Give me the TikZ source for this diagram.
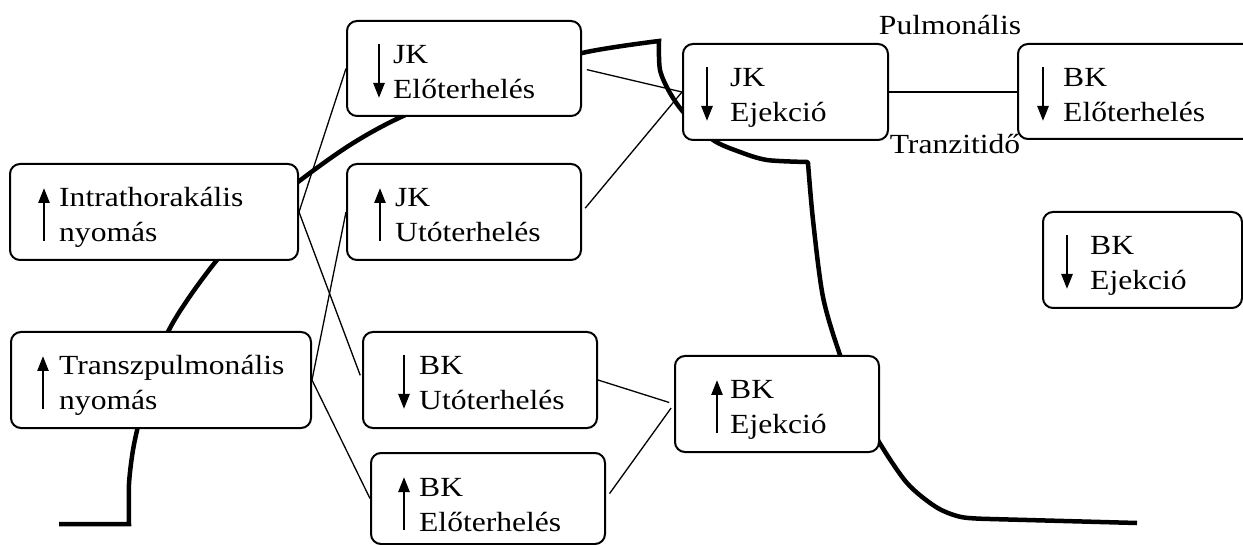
\documentclass[tikz,border=0pt]{standalone}
\usepackage{fontspec}
\setmainfont[FakeStretch=1.14]{Liberation Serif}
\usetikzlibrary{arrows.meta}

% two stacked lines, baseline at the first one
\newcommand\twolines[2]{\begin{tabular}[t]{@{}l@{}}#1\\#2\end{tabular}}

% box: name, left, top, right, bottom, u/d, arrow offset, text offset, {line1}{line2}
\newcommand\statebox[9]{%
  \node[stbox, minimum width={(#4-#2)*1pt}, minimum height={(#5-#3)*1pt}]
    (#1) at ({(#2+#4)/2},{(#3+#5)/2}) {};
  \node[boxtext] (#1-txt) at ({#2+#8},{#3+43}) {\twolines#9};
  \ifx u#6
    \draw[trend] ({#2+#7},{#3+77}) -- ({#2+#7},{#3+24});
  \else
    \draw[trend] ({#2+#7},{#3+23}) -- ({#2+#7},{#3+77});
  \fi
}

\tikzset{
  stbox/.style={draw, line width=2pt, rounded corners=10pt, fill=white,
                inner sep=0pt, rectangle},
  boxtext/.style={anchor=base west, inner sep=0pt,
                  font=\fontsize{27.7}{35}\selectfont},
  lbl/.style={anchor=base, inner sep=0pt, font=\fontsize{27.7}{35}\selectfont},
  trend/.style={line width=2.6pt, -{Triangle[length=15pt,width=11pt]}},
  link/.style={line width=1.3pt},
  curve/.style={line width=4.5pt},
}

\begin{document}
\begin{tikzpicture}[x=1pt, y=-1pt]
\useasboundingbox (0,0) rectangle (1243,545);
\clip (0,0) rectangle (1243,545);

% thick pressure curve, drawn underneath the boxes
\draw[curve] (59,524) -- (129,524)
  -- plot[smooth] coordinates {(129,524) (129,484) (133,450) (140,418) (152,375)
       (168,332) (188,299) (217,260) (255,218) (298,182) (350,145) (401,117)
       (490,80) (582,53) (659,41)}
  -- plot[smooth] coordinates {(659,41) (660,70) (670,93) (685,114) (713,140)
       (740,152) (767,160) (807,162)}
  -- plot[smooth] coordinates {(808,163) (813,220) (823,297) (840,355)
       (860,405) (879,442) (907,483) (936,507) (961,517) (990,519)}
  -- (1137,523);

% boxes
\statebox{itp}{10}{164}{298}{260}{u}{34}{49}{{Intrathorakális}{nyomás}}
\statebox{tpp}{11}{332}{311}{428}{u}{32}{48}{{Transzpulmonális}{nyomás}}
\statebox{jkel}{347}{21}{581}{116}{d}{32}{46}{{JK}{Előterhelés}}
\statebox{jkut}{347}{164}{581}{260}{u}{33}{48}{{JK}{Utóterhelés}}
\statebox{bkut}{363}{332}{597}{428}{d}{41}{56}{{BK}{Utóterhelés}}
\statebox{bkel}{371}{453}{605}{544}{u}{33}{48}{{BK}{Előterhelés}}
\statebox{jkej}{683}{44}{888}{140}{d}{24}{47}{{JK}{Ejekció}}
\statebox{bkelr}{1018}{44}{1260}{139}{d}{25}{45}{{BK}{Előterhelés}}
\statebox{bkejr}{1043}{212}{1242}{308}{d}{24}{47}{{BK}{Ejekció}}
\statebox{bkej}{675}{356}{879}{452}{u}{42}{55}{{BK}{Ejekció}}

% connectors
\draw[link] (itp.east) -- (jkel.west);
\draw[link, shorten >=5pt] (itp.east) -- (bkut.west);
\draw[link] (tpp.east) -- (jkut.west);
\draw[link] (tpp.east) -- (bkel.west);
\draw[link, shorten <=5pt] (jkel.east) -- (jkej.west);
\draw[link, shorten <=5pt] (jkut.east) -- (jkej.west);
\draw[link, shorten >=5pt] (bkut.east) -- (bkej.west);
\draw[link, shorten <=6pt, shorten >=5pt] (bkel.east) -- (bkej.west);
\draw[link] (jkej.east) -- (jkej.east -| bkelr.west);

% labels on the pulmonary link
\node[lbl] (pul) at (950,35) {Pulmonális};
\node[lbl] (tra) at (955,154) {Tranzitidő};
\end{tikzpicture}
\end{document}
